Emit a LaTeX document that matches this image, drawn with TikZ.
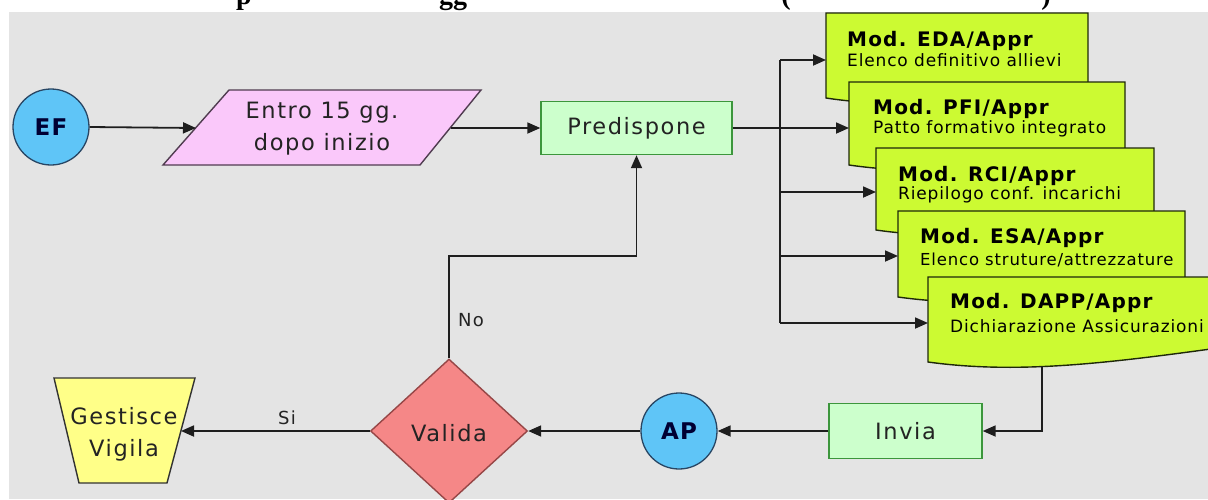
\documentclass[tikz,border=0pt]{standalone}
\usepackage{fontspec}
\usetikzlibrary{arrows.meta,shapes.geometric}
\newfontfamily\djm[LetterSpace=7]{DejaVu Sans}
\newfontfamily\djh[LetterSpace=6]{DejaVu Sans}
\newfontfamily\djc[LetterSpace=5]{DejaVu Sans}
\newfontfamily\djs[LetterSpace=5]{DejaVu Sans}
\newfontfamily\ttl{Liberation Serif}
\definecolor{bgc}{RGB}{228,228,228}
\definecolor{circf}{RGB}{95,197,247}
\definecolor{circb}{RGB}{40,70,100}
\definecolor{paraf}{RGB}{250,200,250}
\definecolor{parab}{RGB}{80,60,80}
\definecolor{gboxf}{RGB}{204,255,204}
\definecolor{gboxb}{RGB}{60,150,60}
\definecolor{docf}{RGB}{204,250,50}
\definecolor{docb}{RGB}{30,40,10}
\definecolor{diaf}{RGB}{245,135,135}
\definecolor{diab}{RGB}{150,70,70}
\definecolor{trapf}{RGB}{255,255,136}
\definecolor{trapb}{RGB}{50,50,50}
\definecolor{lnc}{RGB}{30,30,30}
\definecolor{txc}{RGB}{35,35,35}
\newcommand\mydoc[4]{%
  \filldraw[docst] (#1,#2) -- (#3,#2) -- (#3,#4-14)
    .. controls ({#3-0.4*(#3-#1)},#4+2) and ({#1+0.3*(#3-#1)},#4+12) .. (#1,#4) -- cycle;}
\tikzset{
  docst/.style={fill=docf,draw=docb,line width=1.4pt},
  ln/.style={draw=lnc,line width=1.8pt},
  arr/.style={ln,-{Triangle[length=13pt,width=11pt]}},
  circ/.style={circle,draw=circb,fill=circf,line width=1.3pt,minimum size=76pt,inner sep=0pt,
    text=black!80!blue,font=\djc\bfseries\fontsize{23}{26}\selectfont},
  gbox/.style={draw=gboxb,fill=gboxf,line width=1.4pt,inner sep=0pt,text=txc,
    font=\djm\fontsize{22.5}{26}\selectfont},
  maintext/.style={inner sep=0pt,text=txc,align=center,font=\djm\fontsize{22.5}{32}\selectfont},
  head/.style={inner sep=0pt,anchor=base west,text=black,font=\djh\bfseries\fontsize{20}{22}\selectfont},
  sub/.style={inner sep=0pt,anchor=base west,text=black,font=\djs\fontsize{17}{20}\selectfont},
  lbl/.style={inner sep=0pt,text=txc,font=\djm\fontsize{18}{20}\selectfont},
  ttlfrag/.style={inner sep=0pt,anchor=base,font=\ttl\bfseries\fontsize{28}{30}\selectfont}
}
\begin{document}
\begin{tikzpicture}[x=1pt,y=-1pt]
\useasboundingbox (0,0) rectangle (1208,499);
\fill[white] (0,0) rectangle (1208,499);
\fill[bgc] (9,12) rectangle (1208,499);
% title fragments (cut off at the top, as in the reference)
\begin{scope}
\clip (0,0) rectangle (1208,12);
\node[ttlfrag] (tp) at (244,4) {p};
\node[ttlfrag] (tg) at (453,4) {gg};
\node[ttlfrag] (tl) at (786,4) {(};
\node[ttlfrag] (tr) at (1046,4) {)};
\end{scope}
% documents
\mydoc{826}{13}{1088}{98}
\node[head] (edaH) at (847,46) {Mod. EDA/Appr};
\node[sub] (edaS) at (847,66) {Elenco definitivo allievi};
\mydoc{849}{82}{1125}{165}
\node[head] (pfiH) at (873,114) {Mod. PFI/Appr};
\node[sub] (pfiS) at (873,133) {Patto formativo integrato};
\mydoc{876}{148}{1154}{230}
\node[head] (rciH) at (898,181) {Mod. RCI/Appr};
\node[sub] (rciS) at (898,199) {Riepilogo conf. incarichi};
\mydoc{898}{211}{1185}{297}
\node[head] (esaH) at (920,243) {Mod. ESA/Appr};
\node[sub,font=\djs\fontsize{16.5}{20}\selectfont] (esaS) at (920,265) {Elenco struture/attrezzature};
\mydoc{928}{277}{1218}{362}
\node[head] (dapH) at (950,308) {Mod. DAPP/Appr};
\node[sub] (dapS) at (950,332) {Dichiarazione Assicurazioni};
% shapes
\node[circ] (ef) at (51,127) {EF};
\node[circ] (ap) at (679,431) {AP};
\filldraw[fill=paraf,draw=parab,line width=1.4pt] (163,165) -- (229,90) -- (481,90) -- (420,165) -- cycle;
\node[maintext] (entro) at (322,129) {Entro 15 gg.\\dopo inizio};
\node[gbox,minimum width=191pt,minimum height=53pt] (pred) at (636.5,128) {Predispone};
\node[gbox,minimum width=153pt,minimum height=55pt] (invia) at (905.5,431) {Invia};
\node[diamond,draw=diab,fill=diaf,line width=1.4pt,minimum width=157pt,minimum height=144pt,
  aspect=1.09,inner sep=0pt] (valida) at (449,431) {};
\node[maintext] (validaT) at (449,433) {Valida};
\filldraw[fill=trapf,draw=trapb,line width=1.4pt] (54,378) -- (195,378) -- (167,483) -- (79,483) -- cycle;
\node[maintext] (gest) at (124,434) {Gestisce\\Vigila};
% coordinates
\coordinate (paraW) at (196,128);
\coordinate (paraE) at (451,128);
\coordinate (tTop) at (780,60);
\coordinate (tBot) at (780,323);
\coordinate (tRci) at (780,192);
\coordinate (tEsa) at (780,256);
\coordinate (edaIn) at (826,60);
\coordinate (pfiIn) at (849,128);
\coordinate (rciIn) at (876,192);
\coordinate (esaIn) at (898,256);
\coordinate (dapIn) at (928,323);
\coordinate (dapB) at (1042,366);
\coordinate (gestE) at (181,431);
% connectors
\draw[arr] (ef.east) -- (paraW);
\draw[arr] (paraE) -- (pred.west);
\draw[ln] (tTop) -- (tBot);
\draw[arr] (pred.east) -- (pfiIn);
\draw[arr] (tTop) -- (edaIn);
\draw[arr] (tRci) -- (rciIn);
\draw[arr] (tEsa) -- (esaIn);
\draw[arr] (tBot) -- (dapIn);
\draw[arr] (dapB) |- (invia.east);
\draw[arr] (invia.west) -- (ap.east);
\draw[arr] (ap.west) -- (valida.east);
\draw[arr] (valida.west) -- (gestE);
\draw[arr] (valida.north) -- ++(0,-102) -| (pred.south);
\node[lbl] (si) at (287,418) {Si};
\node[lbl] (no) at (471,320) {No};
\end{tikzpicture}
\end{document}
